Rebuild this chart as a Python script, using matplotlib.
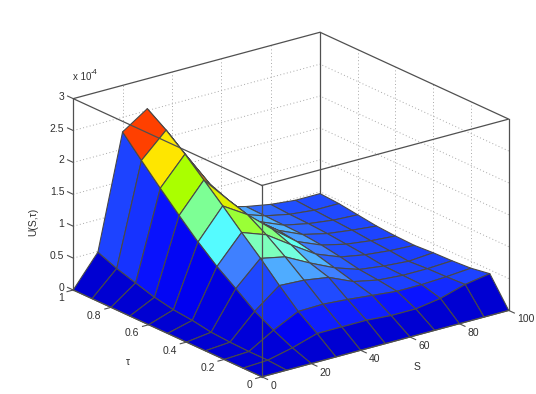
import matplotlib
matplotlib.use('Agg')
import matplotlib.pyplot as plt
from matplotlib.colors import LinearSegmentedColormap, Normalize
from mpl_toolkits.mplot3d import proj3d
import numpy as np

plt.rcParams['font.family'] = ['Liberation Sans', 'DejaVu Sans']

S = [0, 10, 20, 30, 40, 50, 60, 70, 80, 90, 100]
tau = [0, 0.1, 0.2, 0.3, 0.4, 0.5, 0.6, 0.7, 0.8, 0.9, 1.0]

# U(S,tau) in units of 1e-4, one row per tau
U_t00 = [0, 0, 0, 0, 0, 0, 0, 0, 0, 0, 0]
U_t01 = [0, 0.02, 0.11, 0.23, 0.23, 0.23, 0.20, 0.20, 0.26, 0.375, 0.44]
U_t02 = [0, 0.02, 0.25, 0.44, 0.45, 0.42, 0.38, 0.34, 0.34, 0.36, 0.39]
U_t03 = [0, 0.03, 0.41, 0.71, 0.69, 0.63, 0.46, 0.38, 0.35, 0.35, 0.37]
U_t04 = [0, 0.05, 0.63, 1.00, 0.92, 0.72, 0.54, 0.41, 0.36, 0.33, 0.36]
U_t05 = [0, 0.10, 0.84, 1.27, 1.13, 0.87, 0.62, 0.47, 0.40, 0.36, 0.34]
U_t06 = [0, 0.13, 1.09, 1.55, 1.31, 0.98, 0.68, 0.52, 0.43, 0.38, 0.35]
U_t07 = [0, 0.19, 1.37, 1.82, 1.40, 1.00, 0.72, 0.55, 0.46, 0.41, 0.37]
U_t08 = [0, 0.28, 1.66, 2.09, 1.52, 1.00, 0.72, 0.56, 0.48, 0.43, 0.41]
U_t09 = [0, 0.37, 1.96, 2.33, 1.74, 1.00, 0.70, 0.57, 0.49, 0.45, 0.45]
U_t10 = [0, 0.49, 2.27, 2.53, 1.90, 1.00, 0.68, 0.58, 0.51, 0.47, 0.47]

S_ticks = [0, 20, 40, 60, 80, 100]
tau_ticks = [0, 0.2, 0.4, 0.6, 0.8, 1]
z_ticks = [0, 0.5, 1, 1.5, 2, 2.5, 3]
z_labels = ['0', '0.5', '1', '1.5', '2', '2.5', '3']

col_vals = [0, 0.1, 0.2, 0.3, 0.5, 0.63, 0.71, 0.84, 0.95, 1.09, 1.37, 1.66, 1.96, 2.53]
col_list = ['#0000d2', '#0000f0', '#0a14ff', '#1a3cff', '#2250ff', '#4082ff', '#50afff', '#55ffff',
            '#7dffd2', '#7dff96', '#aaff00', '#ffe600', '#ff4000', '#ff2000']
cm = LinearSegmentedColormap.from_list('cells', [(v / 2.53, c) for v, c in zip(col_vals, col_list)])
norm = Normalize(0, 2.53)

U = np.array([U_t00, U_t01, U_t02, U_t03, U_t04, U_t05, U_t06, U_t07, U_t08, U_t09, U_t10])
X, Y = np.meshgrid(S, tau)

fig = plt.figure(figsize=(5.36, 3.94), dpi=100)
side = 700
cx, cy = 281.5, 214
ax = fig.add_axes([(cx - side / 2) / 536, (394 - cy - side / 2) / 394, side / 536, side / 394],
                  projection='3d', computed_zorder=False)
ax.patch.set_alpha(0)
ax.set_proj_type('ortho')
ax.view_init(elev=20.6, azim=-127.4)
ax.set_box_aspect((310, 310, 204), zoom=0.672)
ax.set_xlim(0, 100, view_margin=0)
ax.set_ylim(0, 1, view_margin=0)
ax.set_zlim(0, 3, view_margin=0)
ax.set_xticks([])
ax.set_yticks([])
ax.set_zticks([])
ax.set_axis_off()

grid = dict(color='#a8a8a8', lw=0.7, ls=(0, (1, 2.5)), zorder=1)
box = dict(color='#505050', lw=0.9, zorder=5)

# dotted grid on the two back walls
for s in S_ticks[1:-1]:
    ax.plot([s, s], [1, 1], [0, 3], **grid)
for t in tau_ticks[1:-1]:
    ax.plot([100, 100], [t, t], [0, 3], **grid)
for z in z_ticks[1:-1]:
    ax.plot([0, 100], [1, 1], [z, z], **grid)
    ax.plot([100, 100], [0, 1], [z, z], **grid)

ax.plot([100, 100], [1, 1], [0, 3], color='#505050', lw=0.9, zorder=1)

C = U[:-1, :-1].copy()
C[8, 3] = 1.66  # thin sliver behind the ridge is yellow in the picture
face = cm(norm(C))
ax.plot_surface(X, Y, U, rstride=1, cstride=1, facecolors=face, shade=False,
                edgecolor='#484848', linewidth=0.8, zorder=3)

# box edges in front of the surface
ax.plot([0, 0], [1, 1], [0, 3], **box)
ax.plot([0, 0], [0, 0], [0, 3], **box)
ax.plot([100, 100], [0, 0], [0, 3], **box)
ax.plot([0, 100, 100, 0, 0], [0, 0, 1, 1, 0], [3, 3, 3, 3, 3], **box)
ax.plot([0, 100], [0, 0], [0, 0], **box)
ax.plot([0, 0], [0, 1], [0, 0], **box)

tick = dict(color='#505050', lw=0.8, zorder=5)
M = ax.get_proj()


def label(x, y, z, s, dx, dy, ha):
    # tick label offset in pixels from the projected tick position
    px, py, _ = proj3d.proj_transform(x, y, z, M)
    ax.annotate(s, (px, py), xytext=(dx, dy), textcoords='offset pixels', ha=ha, va='center',
                fontsize=7.5, color='#303030', zorder=6)


for s in S_ticks:
    ax.plot([s, s], [0, -0.03], [0, 0], **tick)
    label(s, 0, 0, str(s), 8.5, -9, 'left')
for t in tau_ticks:
    ax.plot([0, -2.5], [t, t], [0, 0], **tick)
    label(0, t, 0, str(t), -9.5, -8.5, 'right')
for z, lab in zip(z_ticks, z_labels):
    ax.plot([0, 0], [1, 1.03], [z, z], **tick)
    label(0, 1, z, lab, -9, 2, 'right')

fig.text(73 / 536, 1 - 77 / 394, 'x 10', fontsize=7, color='#303030', va='center')
fig.text(91 / 536, 1 - 72.5 / 394, '-4', fontsize=5.5, color='#303030', va='center')
fig.text(33 / 536, 1 - 222 / 394, 'U(S,τ)', fontsize=7.5, color='#303030', rotation=90, ha='center', va='center')
fig.text(417 / 536, 1 - 367 / 394, 'S', fontsize=7.5, color='#303030', ha='center', va='center')
fig.text(128 / 536, 1 - 362 / 394, 'τ', fontsize=7.5, color='#303030', ha='center', va='center')

fig.savefig('out.png', dpi=100)
